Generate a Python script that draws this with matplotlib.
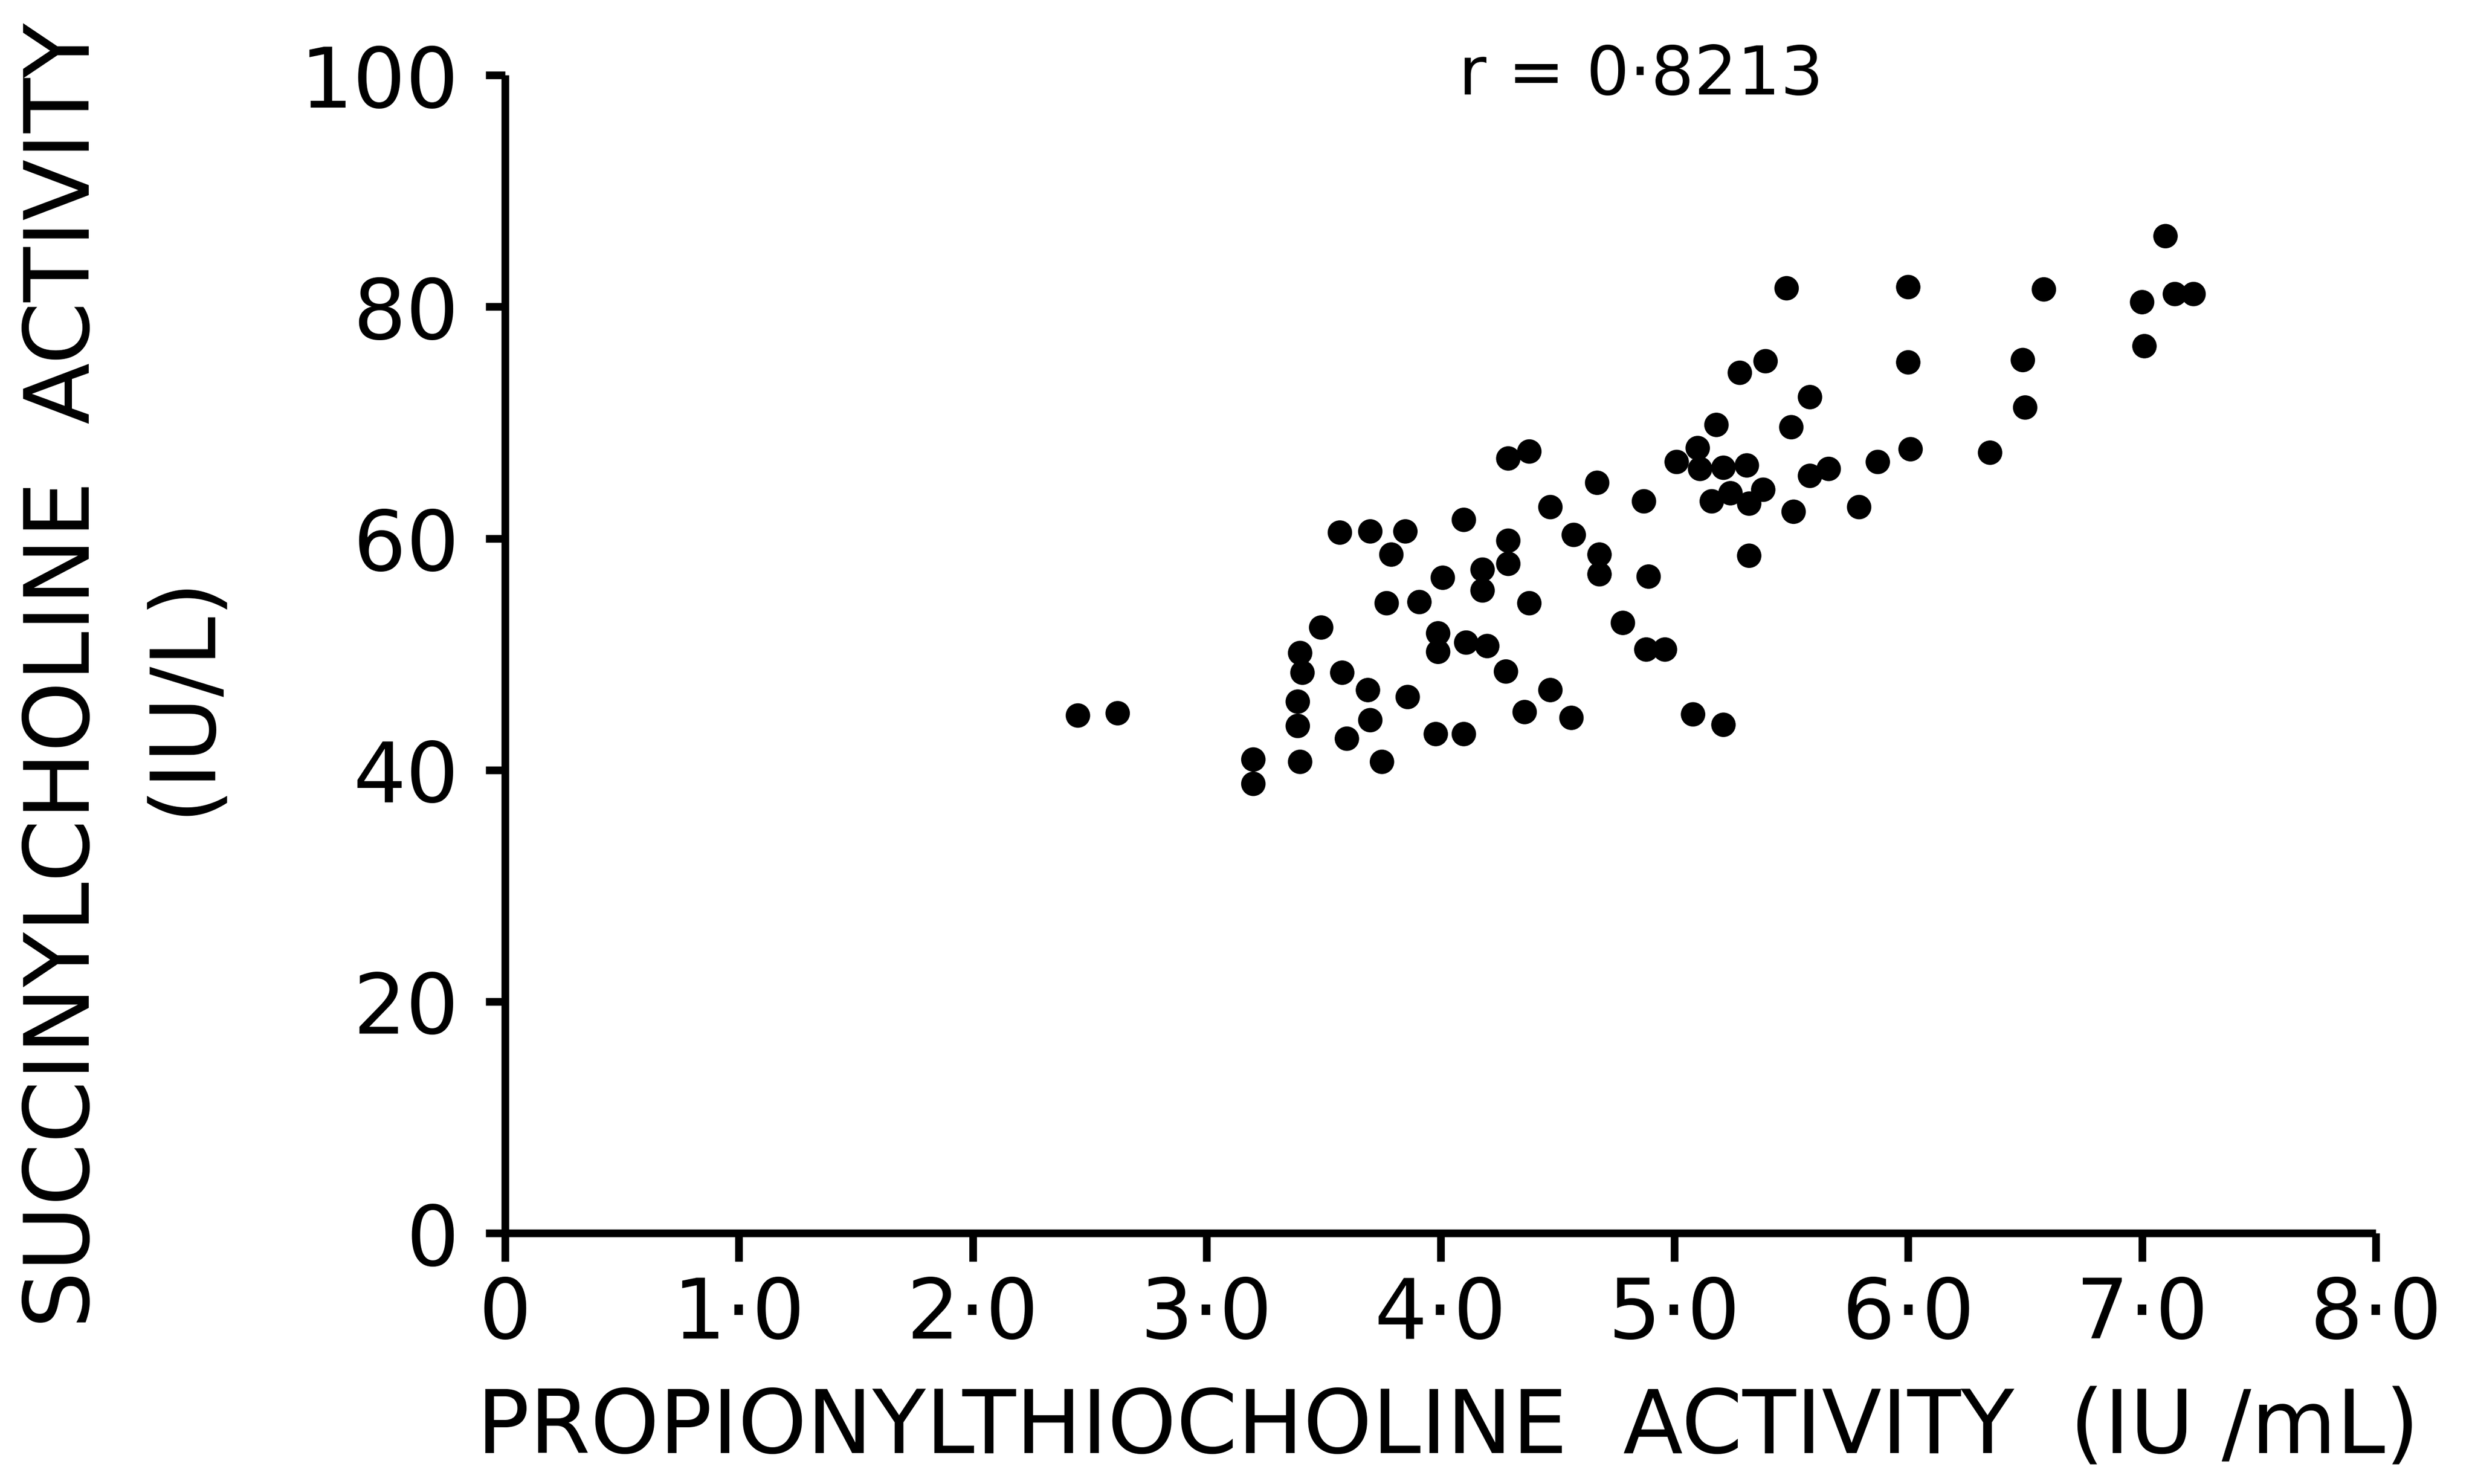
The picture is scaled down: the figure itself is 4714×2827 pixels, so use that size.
import numpy as np
import matplotlib
matplotlib.use("Agg")
import matplotlib.pyplot as plt

# propionylthiocholine (IU/mL) vs succinylcholine (IU/L)
ptc = [2.45, 2.62, 3.20, 3.20, 3.40, 3.41, 3.39, 3.39, 3.40, 3.49,
       3.57, 3.58, 3.60, 3.70, 3.69, 3.70, 3.75, 3.79, 3.77, 3.85,
       3.86, 3.91, 4.01, 3.99, 3.99, 3.98, 4.10, 4.11, 4.10, 4.18,
       4.18, 4.20, 4.29, 4.29, 4.29, 4.28, 4.38, 4.38, 4.36, 4.47,
       4.47, 4.57, 4.56, 4.67, 4.68, 4.68, 4.78, 4.87, 4.89, 4.88,
       4.96, 5.01, 5.10, 5.11, 5.08, 5.18, 5.16, 5.21, 5.21, 5.28,
       5.31, 5.24, 5.32, 5.38, 5.39, 5.32, 5.48, 5.50, 5.51, 5.58,
       5.58, 5.66, 5.79, 5.87, 6.00, 6.00, 6.01, 6.35, 6.49, 6.50,
       6.58, 7.00, 7.01, 7.10, 7.14, 7.22]
sch = [44.7, 44.9, 40.9, 38.8, 50.1, 48.4, 45.9, 43.8, 40.7, 52.3,
       60.5, 48.4, 42.7, 60.6, 46.9, 44.3, 40.7, 58.6, 54.4, 60.6,
       46.3, 54.5, 56.6, 51.8, 50.2, 43.1, 61.6, 51.0, 43.1, 57.3,
       55.5, 50.7, 66.9, 59.8, 57.8, 48.5, 67.5, 54.4, 45.0, 62.7,
       46.9, 60.3, 44.5, 64.8, 58.6, 56.9, 52.7, 63.2, 56.7, 50.4,
       50.4, 66.6, 67.8, 66.0, 44.8, 69.8, 63.2, 43.9, 66.1, 74.3,
       66.3, 63.9, 63.0, 64.2, 75.3, 58.5, 81.6, 69.6, 62.3, 72.2,
       65.4, 66.0, 62.7, 66.6, 81.7, 75.2, 67.7, 67.4, 75.4, 71.3,
       81.5, 80.4, 76.6, 86.1, 81.1, 81.1]

x_ticks = [0, 1, 2, 3, 4, 5, 6, 7, 8]
x_labels = ["0", "1·0", "2·0", "3·0", "4·0", "5·0", "6·0", "7·0", "8·0"]
y_ticks = [0, 20, 40, 60, 80, 100]
r_text = "r = 0·8213"

plt.rcParams['font.family'] = ['DejaVu Sans']

fig = plt.figure(figsize=(4714 / 300, 2828 / 300), dpi=300)
ax = fig.add_axes([0.204, 0.169, 0.756, 0.780])

ax.scatter(ptc, sch, s=125, color='black', edgecolors='none', zorder=3)

ax.set_xlim(0, 8)
ax.set_ylim(0, 100)
ax.spines['top'].set_visible(False)
ax.spines['right'].set_visible(False)
for side in ['left', 'bottom']:
    ax.spines[side].set_linewidth(3.5)
    ax.spines[side].set_capstyle('butt')

ax.set_xticks(x_ticks)
ax.set_xticklabels(x_labels)
ax.set_yticks(y_ticks)
ax.tick_params(axis='x', direction='out', length=13, width=3.5, pad=6, labelsize=38)
ax.tick_params(axis='y', direction='out', length=9, width=3.5, pad=12, labelsize=38)

fig.text(0.585, 0.038, "PROPIONYLTHIOCHOLINE  ACTIVITY  (IU /mL)",
         ha='center', va='center', fontsize=40)
fig.text(0.026, 0.545, "SUCCINYLCHOLINE  ACTIVITY", rotation=90,
         ha='center', va='center', fontsize=41)
fig.text(0.074, 0.532, "(IU/L)", rotation=90, ha='center', va='center', fontsize=41)
fig.text(0.663, 0.949, r_text, ha='center', va='center', fontsize=31)

fig.savefig("out.png", dpi=300, facecolor='white')
